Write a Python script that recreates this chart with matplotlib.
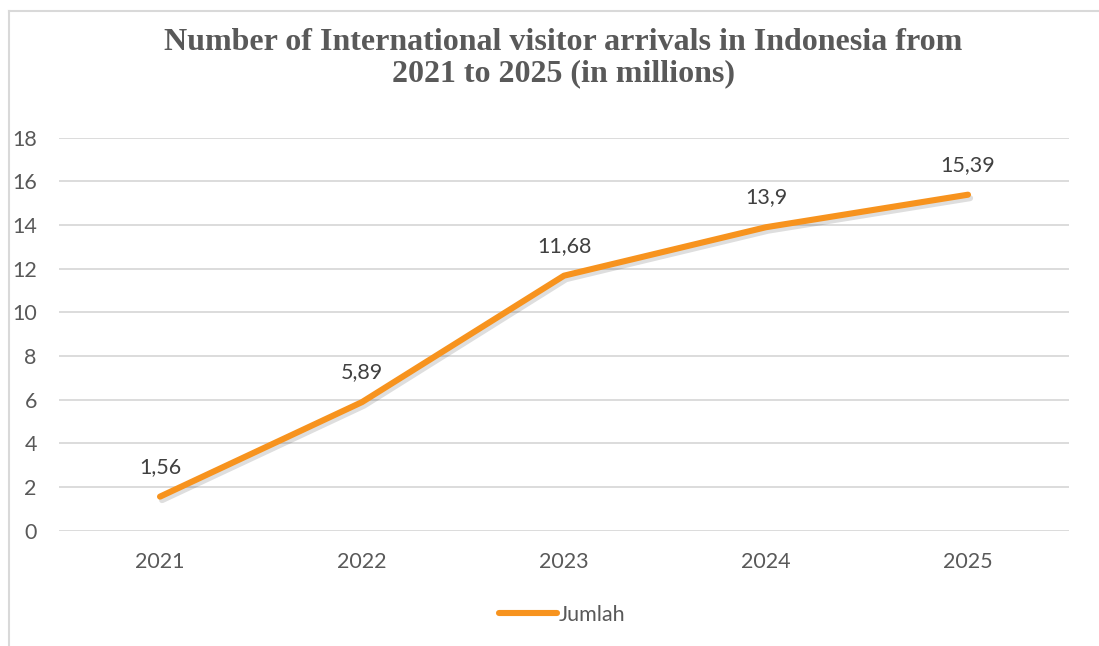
import matplotlib
matplotlib.use("Agg")
import matplotlib.pyplot as plt
import matplotlib.patheffects as pe
from matplotlib.lines import Line2D

years = ["2021", "2022", "2023", "2024", "2025"]
values = [1.56, 5.89, 11.68, 13.9, 15.39]
value_labels = ["1,56", "5,89", "11,68", "13,9", "15,39"]
yticks = [0, 2, 4, 6, 8, 10, 12, 14, 16, 18]
series_name = "Jumlah"
title = "Number of International visitor arrivals in Indonesia from\n2021 to 2025 (in millions)"

W, H = 1099, 646
ORANGE = "#F7931E"
fig = plt.figure(figsize=(W / 100, H / 100), dpi=100)
fig.patch.set_facecolor("white")

ax = fig.add_axes([59 / W, (H - 530.7) / H, (1069 - 59) / W, (530.7 - 137.7) / H])
x = list(range(len(years)))
ax.plot(x, values, color=ORANGE, lw=4.4, solid_capstyle="round",
        solid_joinstyle="round", zorder=3,
        path_effects=[pe.SimpleLineShadow(offset=(1.5, -2.5), shadow_color="k", alpha=0.13),
                      pe.Normal()])
ax.set_xlim(-0.5, len(years) - 0.5)
ax.set_ylim(0, 18)
ax.set_yticks(yticks)
ax.set_xticks(x)
ax.set_xticklabels(years)
for s in ax.spines.values():
    s.set_visible(False)
ax.tick_params(length=0, labelsize=15.5, labelcolor="#595959")
ax.tick_params(axis="y", pad=16)
ax.tick_params(axis="x", pad=15)
for lbl in ax.get_xticklabels() + ax.get_yticklabels():
    lbl.set_family("Lato")
ax.grid(axis="y", color="#d9d9d9", lw=1.3)
ax.set_axisbelow(True)

for xi, v, t in zip(x, values, value_labels):
    ax.annotate(t, (xi, v), xytext=(0, 30), textcoords="offset pixels",
                ha="center", va="center", fontsize=15.5, color="#404040", family="Lato")

fig.text(563 / W, 1 - 58 / H, title, ha="center", va="center", fontsize=23,
         fontweight="bold", family="Liberation Serif", color="#595959", linespacing=1.1)

handle = Line2D([], [], color=ORANGE, lw=4.4, solid_capstyle="round")
leg = fig.legend(handles=[handle], labels=[series_name], loc="center",
                 bbox_to_anchor=(562 / W, 1 - 615 / H), frameon=False,
                 handlelength=2.7, handletextpad=0.1, prop={"family": "Lato", "size": 15.5})
for t in leg.get_texts():
    t.set_color("#595959")

fig.add_artist(Line2D([9 / W, 1], [1 - 11 / H, 1 - 11 / H], color="#d9d9d9", lw=1.5))
fig.add_artist(Line2D([9 / W, 9 / W], [0, 1 - 11 / H], color="#d9d9d9", lw=1.5))

fig.savefig("out.png", dpi=100)
